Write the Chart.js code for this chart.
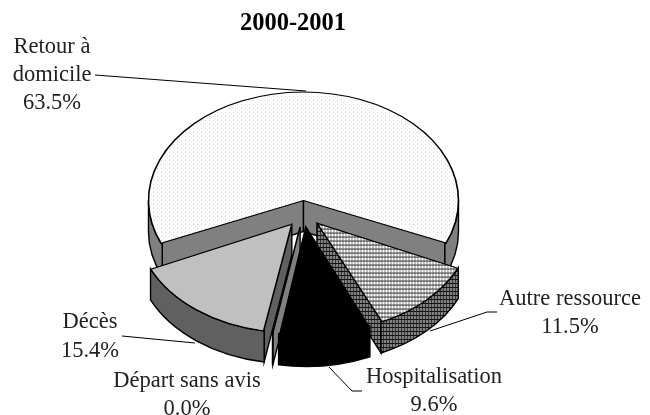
<!DOCTYPE html>
<html>
<head>
<meta charset="utf-8">
<style>html,body{margin:0;padding:0;background:#fff}canvas{display:block}</style>
<script src="https://cdn.jsdelivr.net/npm/chart.js@4/dist/chart.umd.min.js"></script>
</head>
<body>
<canvas id="c" width="650" height="415"></canvas>
<script>
const titleText = '2000-2001';
const categories = ['Retour à domicile', 'Autre ressource', 'Hospitalisation', 'Départ sans avis', 'Décès'];
const values = [63.5, 11.5, 9.6, 0.04, 15.4];

const TILT = 0.7, DEPTH = 31, EXPLODE = 19, RIM = 155;
const FONT = '"Liberation Serif", serif';

function tile(w, h, bg, marks) {
  const c = document.createElement('canvas');
  c.width = w; c.height = h;
  const x = c.getContext('2d');
  x.fillStyle = bg; x.fillRect(0, 0, w, h);
  marks.forEach(m => { x.fillStyle = m[4]; x.fillRect(m[0], m[1], m[2], m[3]); });
  return x.createPattern(c, 'repeat');
}
function unsquash(p) { p.setTransform(new DOMMatrix().scale(1, 1 / TILT)); return p; }

const dotted = unsquash(tile(4, 4, '#ffffff', [[1, 1, 1, 1, '#d0d0d0'], [3, 3, 1, 1, '#ececec']]));
const checked = unsquash(tile(3, 4, '#ffffff', [[2, 0, 1, 4, '#808080'], [0, 3, 3, 1, '#333333']]));
const checkedDark = tile(3, 4, '#808080', [[2, 0, 1, 4, '#383838'], [0, 3, 3, 1, '#141414']]);

const topColors = [dotted, checked, '#000000', '#ffffff', '#c0c0c0'];
const wallColors = ['#808080', checkedDark, '#000000', '#808080', '#606060'];

// placement of the text and leader lines around the pie
const labelPlaces = [
  { x: 52, lines: [['Retour à', 53], ['domicile', 81]], pct: 109, leader: [[95, 75], [306, 91]] },
  { x: 570, lines: [['Autre ressource', 305]], pct: 333, leader: [[497, 312], [487, 312], [430, 331]] },
  { x: 434, lines: [['Hospitalisation', 383]], pct: 411, leader: [[362, 391], [352, 391], [329, 367]] },
  { x: 187, lines: [['Départ sans avis', 387]], pct: 415, leader: null },
  { x: 90, lines: [['Décès', 328]], pct: 357, leader: [[122, 336], [195, 343]] }
];

function drawWalls(ctx, el, color) {
  const d = (el.options.offset || 0) / 4;
  const R = RIM;
  const s = el.startAngle, e = el.endAngle, mid = (s + e) / 2;
  const ox = el.x + Math.cos(mid) * d, oy = el.y + TILT * Math.sin(mid) * d;
  const pt = a => [ox + R * Math.cos(a), oy + TILT * R * Math.sin(a)];
  ctx.fillStyle = color;
  ctx.strokeStyle = '#000';
  ctx.lineWidth = 1.4;
  ctx.lineJoin = 'miter';
  const radial = a => {
    const p = pt(a);
    // the upper edge is left to the top surface, which is painted over this wall
    ctx.beginPath();
    ctx.moveTo(ox, oy); ctx.lineTo(p[0], p[1] - 3);
    ctx.lineTo(p[0], p[1] + DEPTH); ctx.lineTo(ox, oy + DEPTH);
    ctx.closePath(); ctx.fill();
    ctx.beginPath();
    ctx.moveTo(ox, oy); ctx.lineTo(ox, oy + DEPTH);
    ctx.lineTo(p[0], p[1] + DEPTH); ctx.lineTo(p[0], p[1] - 3);
    ctx.stroke();
  };
  if (Math.sin(s - Math.PI / 2) > 0) radial(s);
  if (Math.sin(e + Math.PI / 2) > 0) radial(e);
  for (let n = -2; n <= 1; n++) {
    const a = Math.max(s, n * 2 * Math.PI), b = Math.min(e, n * 2 * Math.PI + Math.PI);
    if (b <= a) continue;
    const q = pt(b);
    ctx.beginPath();
    ctx.ellipse(ox, oy, R, R * TILT, 0, a, b);
    ctx.lineTo(q[0], q[1] + DEPTH);
    ctx.ellipse(ox, oy + DEPTH, R, R * TILT, 0, b, a, true);
    ctx.closePath(); ctx.fill(); ctx.stroke();
  }
}

const pie3d = {
  id: 'pie3d',
  afterLayout(chart) {
    chart.titleBlock.left = 0;
    chart.titleBlock.right = 586;
  },
  beforeDatasetDraw(chart, args) {
    const ctx = chart.ctx, arcs = args.meta.data;
    // the library widens an exploded arc by an amount that depends on its sweep; keep all rims equal
    arcs.forEach(el => {
      const d = (el.options.offset || 0) / 4;
      const fix = 1 - Math.sin(Math.min(Math.PI, el.circumference || 0));
      el.outerRadius = RIM - d * fix;
    });
    ctx.save();
    ctx.strokeStyle = '#000'; ctx.lineWidth = 1;
    labelPlaces.forEach(l => {
      if (!l.leader) return;
      ctx.beginPath();
      l.leader.forEach((p, i) => i ? ctx.lineTo(p[0], p[1]) : ctx.moveTo(p[0], p[1]));
      ctx.stroke();
    });
    arcs.map((el, i) => ({ el, i }))
      .sort((a, b) => Math.sin((a.el.startAngle + a.el.endAngle) / 2) - Math.sin((b.el.startAngle + b.el.endAngle) / 2))
      .forEach(o => drawWalls(ctx, o.el, wallColors[o.i]));
    ctx.restore();
    const c = arcs[0];
    ctx.save();
    ctx.translate(c.x, c.y);
    ctx.scale(1, TILT);
    ctx.translate(-c.x, -c.y);
  },
  afterDatasetDraw(chart) { chart.ctx.restore(); },
  afterDraw(chart) {
    const ctx = chart.ctx;
    ctx.save();
    ctx.font = '22.5px ' + FONT;
    ctx.fillStyle = '#222';
    ctx.textAlign = 'center';
    ctx.textBaseline = 'alphabetic';
    labelPlaces.forEach((l, i) => {
      l.lines.forEach(t => ctx.fillText(t[0], l.x, t[1]));
      ctx.fillText(values[i].toFixed(1) + '%', l.x, l.pct);
    });
    ctx.restore();
  }
};

new Chart(document.getElementById('c'), {
  type: 'pie',
  data: {
    labels: categories,
    datasets: [{
      data: values,
      backgroundColor: topColors,
      borderColor: '#000000',
      borderWidth: 1.6,
      borderJoinStyle: 'miter',
      offset: EXPLODE * 4,
      clip: false
    }]
  },
  options: {
    responsive: false,
    animation: false,
    events: [],
    rotation: -114.3,
    radius: RIM - EXPLODE,
    layout: { padding: { left: 0, right: 43, top: 0, bottom: 25.8 } },
    plugins: {
      legend: { display: false },
      tooltip: { enabled: false },
      title: {
        display: true,
        text: titleText,
        color: '#000',
        font: { family: FONT, size: 24.5, weight: 'bold', lineHeight: 1.2 },
        padding: { top: 9, bottom: 0 }
      }
    }
  },
  plugins: [pie3d]
});
</script>
</body>
</html>
